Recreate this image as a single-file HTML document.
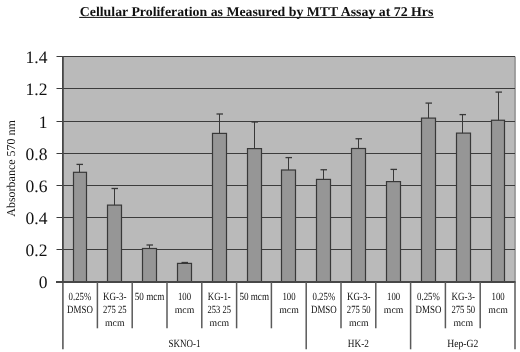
<!DOCTYPE html>
<html><head><meta charset="utf-8"><title>Cellular Proliferation MTT Assay</title>
<style>html,body{margin:0;padding:0;background:#fff;width:520px;height:352px;overflow:hidden;font-family:"Liberation Serif",serif;}svg{display:block;text-rendering:geometricPrecision;filter:blur(0.4px);}</style>
</head><body>
<svg width="520" height="352" viewBox="0 0 520 352">
<rect x="0" y="0" width="520" height="352" fill="#fff"/>
<text x="79.8" y="16.1" font-family="Liberation Serif" font-weight="bold" font-size="13.5" fill="#111" textLength="353.5" lengthAdjust="spacingAndGlyphs">Cellular Proliferation as Measured by MTT Assay at 72 Hrs</text>
<rect x="79.2" y="16.9" width="354.5" height="1" fill="#111"/>
<rect x="62.9" y="56.5" width="452.1" height="225.5" fill="#bababa"/>
<line x1="515.0" y1="56.5" x2="515.0" y2="282.0" stroke="#9a9a9a" stroke-width="1.8"/>
<line x1="56.5" y1="56.5" x2="515.0" y2="56.5" stroke="#3c3c3c" stroke-width="1"/>
<line x1="56.5" y1="88.5" x2="515.0" y2="88.5" stroke="#3c3c3c" stroke-width="1"/>
<line x1="56.5" y1="121.5" x2="515.0" y2="121.5" stroke="#3c3c3c" stroke-width="1"/>
<line x1="56.5" y1="153.5" x2="515.0" y2="153.5" stroke="#3c3c3c" stroke-width="1"/>
<line x1="56.5" y1="185.5" x2="515.0" y2="185.5" stroke="#3c3c3c" stroke-width="1"/>
<line x1="56.5" y1="217.5" x2="515.0" y2="217.5" stroke="#3c3c3c" stroke-width="1"/>
<line x1="56.5" y1="249.5" x2="515.0" y2="249.5" stroke="#3c3c3c" stroke-width="1"/>
<rect x="73.5" y="172.3" width="13" height="109.69999999999999" fill="#969696" stroke="#383838" stroke-width="1.2"/>
<line x1="79.5" y1="172.3" x2="79.5" y2="164.4" stroke="#383838" stroke-width="1"/>
<line x1="76.5" y1="164.4" x2="83.0" y2="164.4" stroke="#383838" stroke-width="1.3"/>
<rect x="107.5" y="205.1" width="14" height="76.9" fill="#969696" stroke="#383838" stroke-width="1.2"/>
<line x1="114.5" y1="205.1" x2="114.5" y2="188.5" stroke="#383838" stroke-width="1"/>
<line x1="111.5" y1="188.5" x2="118.0" y2="188.5" stroke="#383838" stroke-width="1.3"/>
<rect x="142.5" y="248.5" width="14" height="33.5" fill="#969696" stroke="#383838" stroke-width="1.2"/>
<line x1="149.5" y1="248.5" x2="149.5" y2="245" stroke="#383838" stroke-width="1"/>
<line x1="146.5" y1="245" x2="153.0" y2="245" stroke="#383838" stroke-width="1.3"/>
<rect x="177.5" y="263.4" width="14" height="18.600000000000023" fill="#969696" stroke="#383838" stroke-width="1.2"/>
<line x1="184.5" y1="263.4" x2="184.5" y2="262.5" stroke="#383838" stroke-width="1"/>
<line x1="181.5" y1="262.5" x2="188.0" y2="262.5" stroke="#383838" stroke-width="1.3"/>
<rect x="212.5" y="133.4" width="14" height="148.6" fill="#969696" stroke="#383838" stroke-width="1.2"/>
<line x1="219.5" y1="133.4" x2="219.5" y2="114" stroke="#383838" stroke-width="1"/>
<line x1="216.5" y1="114" x2="223.0" y2="114" stroke="#383838" stroke-width="1.3"/>
<rect x="247.5" y="148.6" width="14" height="133.4" fill="#969696" stroke="#383838" stroke-width="1.2"/>
<line x1="254.5" y1="148.6" x2="254.5" y2="122" stroke="#383838" stroke-width="1"/>
<line x1="251.5" y1="122" x2="258.0" y2="122" stroke="#383838" stroke-width="1.3"/>
<rect x="281.5" y="170" width="14" height="112.0" fill="#969696" stroke="#383838" stroke-width="1.2"/>
<line x1="288.5" y1="170" x2="288.5" y2="157.6" stroke="#383838" stroke-width="1"/>
<line x1="285.5" y1="157.6" x2="292.0" y2="157.6" stroke="#383838" stroke-width="1.3"/>
<rect x="316.5" y="179.4" width="14" height="102.6" fill="#969696" stroke="#383838" stroke-width="1.2"/>
<line x1="323.5" y1="179.4" x2="323.5" y2="169.75" stroke="#383838" stroke-width="1"/>
<line x1="320.5" y1="169.75" x2="327.0" y2="169.75" stroke="#383838" stroke-width="1.3"/>
<rect x="351.5" y="148.5" width="14" height="133.5" fill="#969696" stroke="#383838" stroke-width="1.2"/>
<line x1="358.5" y1="148.5" x2="358.5" y2="138.75" stroke="#383838" stroke-width="1"/>
<line x1="355.5" y1="138.75" x2="362.0" y2="138.75" stroke="#383838" stroke-width="1.3"/>
<rect x="386.5" y="181.6" width="14" height="100.4" fill="#969696" stroke="#383838" stroke-width="1.2"/>
<line x1="393.5" y1="181.6" x2="393.5" y2="169.4" stroke="#383838" stroke-width="1"/>
<line x1="390.5" y1="169.4" x2="397.0" y2="169.4" stroke="#383838" stroke-width="1.3"/>
<rect x="421.5" y="118.1" width="14" height="163.9" fill="#969696" stroke="#383838" stroke-width="1.2"/>
<line x1="428.5" y1="118.1" x2="428.5" y2="103.1" stroke="#383838" stroke-width="1"/>
<line x1="425.5" y1="103.1" x2="432.0" y2="103.1" stroke="#383838" stroke-width="1.3"/>
<rect x="456.5" y="133.1" width="14" height="148.9" fill="#969696" stroke="#383838" stroke-width="1.2"/>
<line x1="462.5" y1="133.1" x2="462.5" y2="114.6" stroke="#383838" stroke-width="1"/>
<line x1="459.5" y1="114.6" x2="466.0" y2="114.6" stroke="#383838" stroke-width="1.3"/>
<rect x="491.5" y="120.25" width="13" height="161.75" fill="#969696" stroke="#383838" stroke-width="1.2"/>
<line x1="498.5" y1="120.25" x2="498.5" y2="92.1" stroke="#383838" stroke-width="1"/>
<line x1="495.5" y1="92.1" x2="502.0" y2="92.1" stroke="#383838" stroke-width="1.3"/>
<line x1="62.9" y1="56" x2="62.9" y2="282.0" stroke="#474747" stroke-width="1.8"/>
<line x1="62.9" y1="282.0" x2="62.9" y2="349.3" stroke="#5a5a5a" stroke-width="1.6"/>
<line x1="56" y1="282.0" x2="515.5" y2="282.0" stroke="#474747" stroke-width="1.8"/>
<line x1="97.4" y1="282.0" x2="97.4" y2="328.3" stroke="#5a5a5a" stroke-width="1.5"/>
<line x1="132.2" y1="282.0" x2="132.2" y2="328.3" stroke="#5a5a5a" stroke-width="1.5"/>
<line x1="167.0" y1="282.0" x2="167.0" y2="328.3" stroke="#5a5a5a" stroke-width="1.5"/>
<line x1="201.79999999999998" y1="282.0" x2="201.79999999999998" y2="328.3" stroke="#5a5a5a" stroke-width="1.5"/>
<line x1="236.6" y1="282.0" x2="236.6" y2="328.3" stroke="#5a5a5a" stroke-width="1.5"/>
<line x1="271.4" y1="282.0" x2="271.4" y2="328.3" stroke="#5a5a5a" stroke-width="1.5"/>
<line x1="306.2" y1="282.0" x2="306.2" y2="349.3" stroke="#5a5a5a" stroke-width="1.5"/>
<line x1="341.0" y1="282.0" x2="341.0" y2="328.3" stroke="#5a5a5a" stroke-width="1.5"/>
<line x1="375.8" y1="282.0" x2="375.8" y2="328.3" stroke="#5a5a5a" stroke-width="1.5"/>
<line x1="410.6" y1="282.0" x2="410.6" y2="349.3" stroke="#5a5a5a" stroke-width="1.5"/>
<line x1="445.4" y1="282.0" x2="445.4" y2="328.3" stroke="#5a5a5a" stroke-width="1.5"/>
<line x1="480.2" y1="282.0" x2="480.2" y2="328.3" stroke="#5a5a5a" stroke-width="1.5"/>
<line x1="515.0" y1="282.0" x2="515.0" y2="349.3" stroke="#5a5a5a" stroke-width="1.5"/>
<text x="47.4" y="62.9" text-anchor="end" font-family="Liberation Serif" font-size="17.5" fill="#111">1.4</text>
<text x="47.4" y="94.9" text-anchor="end" font-family="Liberation Serif" font-size="17.5" fill="#111">1.2</text>
<text x="47.4" y="127.9" text-anchor="end" font-family="Liberation Serif" font-size="17.5" fill="#111">1</text>
<text x="47.4" y="159.9" text-anchor="end" font-family="Liberation Serif" font-size="17.5" fill="#111">0.8</text>
<text x="47.4" y="191.9" text-anchor="end" font-family="Liberation Serif" font-size="17.5" fill="#111">0.6</text>
<text x="47.4" y="223.9" text-anchor="end" font-family="Liberation Serif" font-size="17.5" fill="#111">0.4</text>
<text x="47.4" y="255.9" text-anchor="end" font-family="Liberation Serif" font-size="17.5" fill="#111">0.2</text>
<text x="47.4" y="287.9" text-anchor="end" font-family="Liberation Serif" font-size="17.5" fill="#111">0</text>
<text transform="translate(15,168.4) rotate(-90)" text-anchor="middle" font-family="Liberation Serif" font-size="12" fill="#111">Absorbance 570 nm</text>
<text transform="translate(79.92,299.8) scale(0.803,1)" text-anchor="middle" font-family="Liberation Serif" font-size="11" fill="#111">0.25%</text>
<text transform="translate(79.92,312.8) scale(0.812,1)" text-anchor="middle" font-family="Liberation Serif" font-size="11" fill="#111">DMSO</text>
<text transform="translate(114.78,299.8) scale(0.819,1)" text-anchor="middle" font-family="Liberation Serif" font-size="11" fill="#111">KG-3-</text>
<text transform="translate(114.78,312.8) scale(0.787,1)" text-anchor="middle" font-family="Liberation Serif" font-size="11" fill="#111">275 25</text>
<text transform="translate(114.78,325.6) scale(0.975,1)" text-anchor="middle" font-family="Liberation Serif" font-size="10" fill="#111">mcm</text>
<text transform="translate(149.62,299.8) scale(0.828,1)" text-anchor="middle" font-family="Liberation Serif" font-size="11" fill="#111">50 mcm</text>
<text transform="translate(184.48,299.8) scale(0.794,1)" text-anchor="middle" font-family="Liberation Serif" font-size="11" fill="#111">100</text>
<text transform="translate(184.48,312.8) scale(0.975,1)" text-anchor="middle" font-family="Liberation Serif" font-size="10" fill="#111">mcm</text>
<text transform="translate(219.33,299.8) scale(0.798,1)" text-anchor="middle" font-family="Liberation Serif" font-size="11" fill="#111">KG-1-</text>
<text transform="translate(219.33,312.8) scale(0.777,1)" text-anchor="middle" font-family="Liberation Serif" font-size="11" fill="#111">253 25</text>
<text transform="translate(219.33,325.6) scale(0.975,1)" text-anchor="middle" font-family="Liberation Serif" font-size="10" fill="#111">mcm</text>
<text transform="translate(254.18,299.8) scale(0.828,1)" text-anchor="middle" font-family="Liberation Serif" font-size="11" fill="#111">50 mcm</text>
<text transform="translate(289.02,299.8) scale(0.794,1)" text-anchor="middle" font-family="Liberation Serif" font-size="11" fill="#111">100</text>
<text transform="translate(289.02,312.8) scale(0.975,1)" text-anchor="middle" font-family="Liberation Serif" font-size="10" fill="#111">mcm</text>
<text transform="translate(323.88,299.8) scale(0.803,1)" text-anchor="middle" font-family="Liberation Serif" font-size="11" fill="#111">0.25%</text>
<text transform="translate(323.88,312.8) scale(0.812,1)" text-anchor="middle" font-family="Liberation Serif" font-size="11" fill="#111">DMSO</text>
<text transform="translate(358.73,299.8) scale(0.819,1)" text-anchor="middle" font-family="Liberation Serif" font-size="11" fill="#111">KG-3-</text>
<text transform="translate(358.73,312.8) scale(0.787,1)" text-anchor="middle" font-family="Liberation Serif" font-size="11" fill="#111">275 50</text>
<text transform="translate(358.73,325.6) scale(0.975,1)" text-anchor="middle" font-family="Liberation Serif" font-size="10" fill="#111">mcm</text>
<text transform="translate(393.57,299.8) scale(0.794,1)" text-anchor="middle" font-family="Liberation Serif" font-size="11" fill="#111">100</text>
<text transform="translate(393.57,312.8) scale(0.975,1)" text-anchor="middle" font-family="Liberation Serif" font-size="10" fill="#111">mcm</text>
<text transform="translate(428.43,299.8) scale(0.803,1)" text-anchor="middle" font-family="Liberation Serif" font-size="11" fill="#111">0.25%</text>
<text transform="translate(428.43,312.8) scale(0.812,1)" text-anchor="middle" font-family="Liberation Serif" font-size="11" fill="#111">DMSO</text>
<text transform="translate(463.28,299.8) scale(0.819,1)" text-anchor="middle" font-family="Liberation Serif" font-size="11" fill="#111">KG-3-</text>
<text transform="translate(463.28,312.8) scale(0.787,1)" text-anchor="middle" font-family="Liberation Serif" font-size="11" fill="#111">275 50</text>
<text transform="translate(463.28,325.6) scale(0.975,1)" text-anchor="middle" font-family="Liberation Serif" font-size="10" fill="#111">mcm</text>
<text transform="translate(498.12,299.8) scale(0.794,1)" text-anchor="middle" font-family="Liberation Serif" font-size="11" fill="#111">100</text>
<text transform="translate(498.12,312.8) scale(0.975,1)" text-anchor="middle" font-family="Liberation Serif" font-size="10" fill="#111">mcm</text>
<text transform="translate(184.40,346.5) scale(0.818,1)" text-anchor="middle" font-family="Liberation Serif" font-size="11" fill="#111">SKNO-1</text>
<text transform="translate(358.40,346.5) scale(0.842,1)" text-anchor="middle" font-family="Liberation Serif" font-size="11" fill="#111">HK-2</text>
<text transform="translate(462.80,346.5) scale(0.878,1)" text-anchor="middle" font-family="Liberation Serif" font-size="11" fill="#111">Hep-G2</text>
</svg>
</body></html>
